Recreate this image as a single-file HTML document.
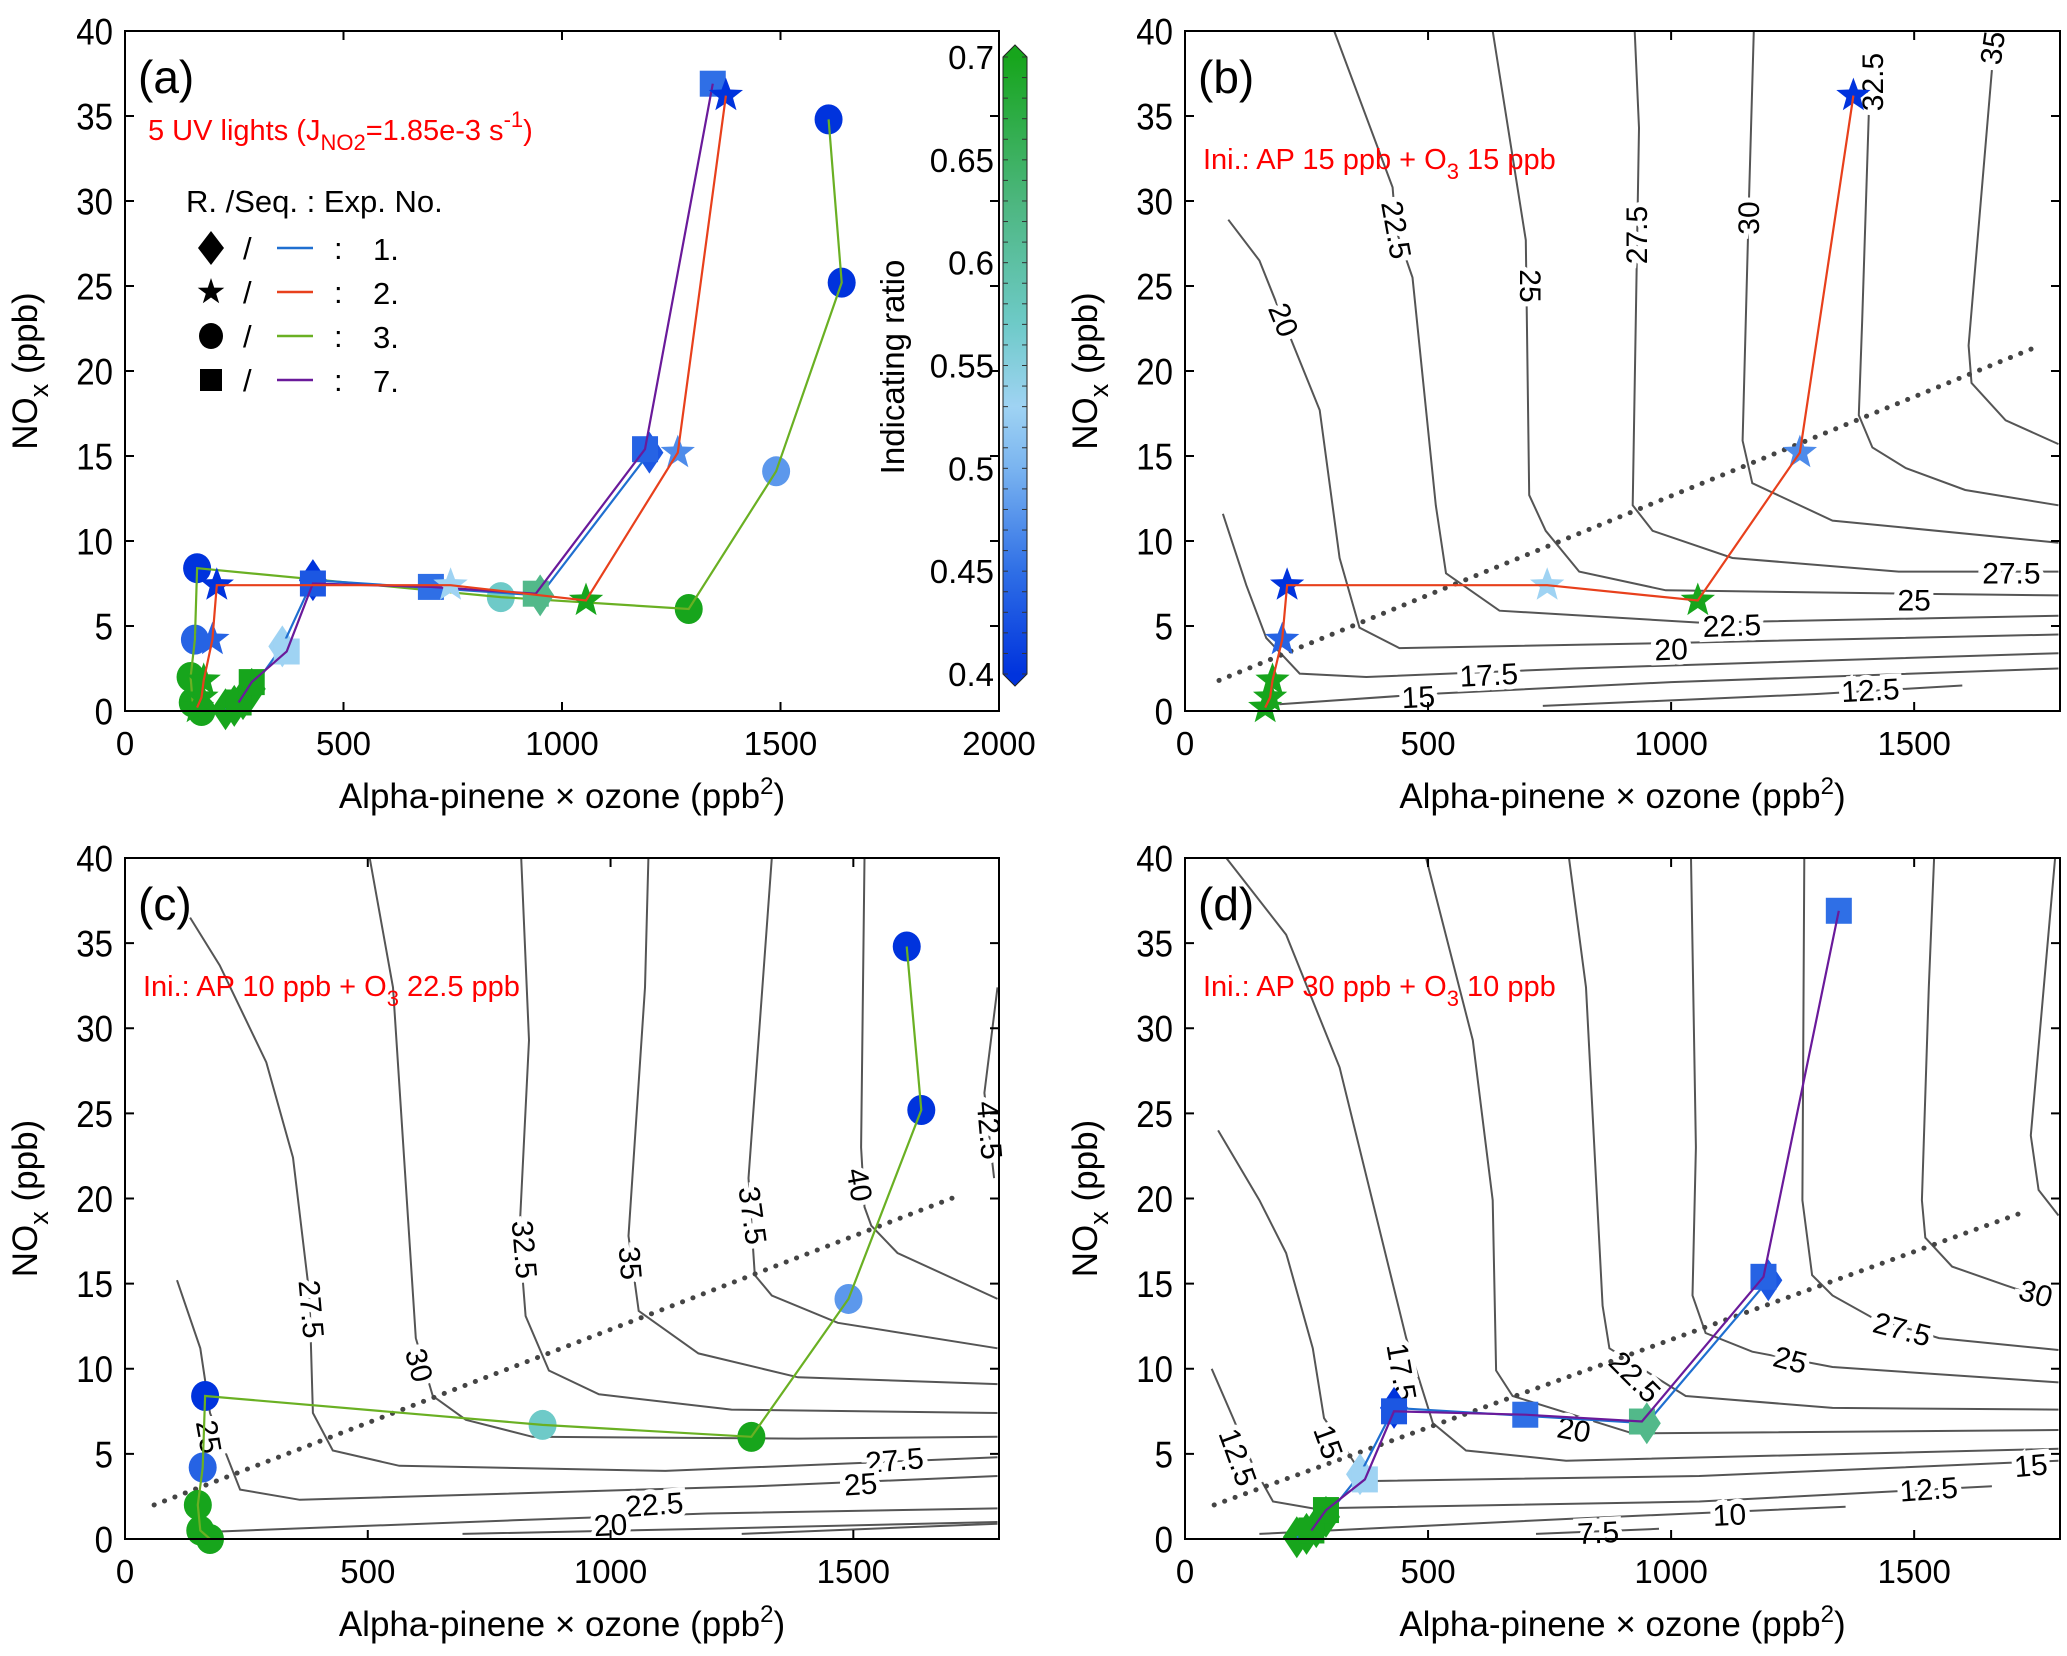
<!DOCTYPE html>
<html><head><meta charset="utf-8"><style>
html,body{margin:0;padding:0;background:#fff}
svg{display:block}
text{font-family:"Liberation Sans",Arial,sans-serif}
</style></head><body>
<svg id="fig" xmlns="http://www.w3.org/2000/svg" width="2067" height="1656" viewBox="0 0 2067 1656"></svg>
<script>
// ---------- data ----------
const exp1X=[230,250,270,290,360,430,950,1200];
const exp1Y=[0.1,0.3,0.7,1.3,3.8,7.7,6.8,15.2];
const exp1R=[0.7,0.7,0.7,0.7,0.53,0.4,0.62,0.43];
const exp7X=[260,290,370,430,700,940,1190,1345];
const exp7Y=[0.5,1.7,3.5,7.5,7.3,6.9,15.4,36.9];
const exp7R=[0.7,0.7,0.53,0.43,0.45,0.62,0.44,0.45];
const exp2X=[165,175,180,200,210,745,1055,1265,1375];
const exp2Y=[0.2,0.8,1.8,4.2,7.4,7.4,6.5,15.2,36.2];
const exp2R=[0.7,0.7,0.7,0.44,0.4,0.53,0.7,0.47,0.4];
const exp3X=[175,155,150,160,165,860,1290,1490,1640,1610];
const exp3Y=[0.0,0.5,2.0,4.2,8.4,6.7,6.0,14.1,25.2,34.8];
const exp3R=[0.7,0.7,0.7,0.44,0.4,0.57,0.7,0.48,0.4,0.4];
const yTicks=[0,5,10,15,20,25,30,35,40];
const xTicksA=[0,500,1000,1500,2000];
const xTicksB=[0,500,1000,1500];
const cbTicks=[0.4,0.45,0.5,0.55,0.6,0.65,0.7];
// contour lines: [level, points(x,y pairs)]
const contB=[
["15",[194,0.4,500,1.0,1000,1.7,1797,2.5]],
["12.5",[736,0.3,1300,1.0,1599,1.5]],
["17.5",[78,11.6,126,7.4,167,4.3,236,2.2,373,2.0,800,2.5,1797,3.4]],
["20",[89,28.9,153,26.5,202,23,277,17.7,318,9,359,4.9,441,3.7,1000,4.0,1797,4.5]],
["22.5",[307,40,427,30.8,434,28.3,468,25.5,516,12.1,537,8.1,647,5.9,1058,5.2,1797,5.6]],
["25",[633,40,701,27.7,708,12.7,742,10.6,811,8.2,989,7.1,1500,6.9,1797,6.8]],
["27.5",[925,40,934,34.3,921,12.1,962,10.6,1126,9.0,1468,8.2,1797,8.2]],
["30",[1170,40,1160,29.9,1147,15.9,1167,13.4,1332,11.2,1797,9.9]],
["32.5",[1407,35.5,1393,23,1386,17.4,1414,15.5,1482,14.3,1605,13.0,1797,12.1]],
["35",[1660,37.7,1612,21.5,1618,19.3,1688,17.1,1797,15.7]]];
const labB=[["20",202,23,68],["22.5",434,28.3,80],["25",710,25,90],["27.5",930,28,-90],["30",1160,29,-90],["32.5",1415,37,-90],["35",1662,39,-82],
["15",480,0.8,-3],["17.5",625,2.1,-3],["20",1000,3.6,-2],["22.5",1125,5.0,-2],["25",1500,6.5,0],["27.5",1700,8.1,0],["12.5",1410,1.2,-3]];
const contC=[
["20",[695,0.3,1200,0.6,1797,1.0]],
["17.5",[1270,0.3,1797,0.9]],
["22.5",[155,0.4,800,1.1,1200,1.5,1797,1.8]],
["25",[107,15.2,155,11.2,175,7.4,237,2.9,360,2.3,1300,3.1,1797,3.7]],
["27.5",[134,36.5,195,33.7,291,28.0,346,22.4,380,14.3,387,7.4,428,5.2,565,4.3,1113,4.0,1797,4.8]],
["30",[504,40,552,32.4,599,11.8,634,8.4,702,7.0,839,6.0,1386,5.9,1797,6.0]],
["32.5",[816,40,832,29.3,812,17.8,825,13.1,873,9.9,976,8.5,1249,7.6,1797,7.4]],
["35",[1078,40,1071,32.4,1037,17.8,1058,13.4,1181,10.9,1386,9.5,1797,9.1]],
["37.5",[1332,40,1284,21.2,1297,15.5,1332,14.3,1468,12.7,1797,11.2]],
["40",[1523,40,1516,23,1523,19.5,1537,18.4,1591,16.8,1797,14.1]],
["42.5",[1797,32.4,1770,26.2,1790,21.2]]];
const labC=[["25",172,6.0,80],["27.5",383,13.5,85],["30",605,10.2,75],["32.5",822,17,85],["35",1040,16.2,85],["37.5",1292,19,82],["40",1512,20.8,80],["42.5",1780,24,85],
["27.5",1585,4.6,-5],["25",1515,3.2,-4],["22.5",1090,2.0,-4],["20",1000,0.8,-3]];
const contD=[
["7.5",[722,0.3,975,0.6]],
["10",[153,0.3,800,1.2,1359,1.9]],
["12.5",[55,10,99,7.1,140,4.3,181,2.2,263,1.8,1058,2.2,1660,3.1]],
["15",[68,24,153,19.9,208,16.8,263,11.2,286,7.1,332,5.2,373,3.4,1058,3.7,1797,4.6]],
["17.5",[85,40,208,35.5,318,27.7,455,11.8,510,6.8,578,5.2,784,4.6,1797,5.3]],
["20",[496,40,592,29.3,633,19.9,640,9.9,674,8.4,921,6.2,1797,6.4]],
["22.5",[790,40,825,32.4,859,13.7,873,11.2,1030,8.4,1332,7.7,1797,7.6]],
["25",[1041,40,1051,23,1044,14.3,1071,12.1,1167,11.0,1332,10.1,1797,9.2]],
["27.5",[1274,40,1270,19.9,1290,15.5,1332,14.3,1414,13.0,1551,11.8,1797,11.1]],
["30",[1541,40,1530,32.4,1516,19.9,1523,17.7,1578,16,1688,14.9,1740,14.4]],
["32.5",[1790,40,1740,23.7,1756,20.5,1797,19]]];
const labD=[["12.5",108,4.8,70],["15",294,5.7,70],["17.5",445,9.8,80],["22.5",925,9.5,45],["20",800,6.4,10],["25",1245,10.5,15],["27.5",1475,12.3,15],["30",1750,14.4,15],
["15",1740,4.3,-5],["12.5",1530,2.9,-4],["10",1120,1.4,-3],["7.5",850,0.35,-3]];
// ---------- helpers ----------
const NS="http://www.w3.org/2000/svg";
const svg=document.getElementById('fig');
function mk(tag,attrs,parent,txt){const e=document.createElementNS(NS,tag);for(const k in attrs)e.setAttribute(k,attrs[k]);if(txt!==undefined)e.textContent=txt;(parent||svg).appendChild(e);return e;}
const cmapStops=[[0.4,[0,51,221]],[0.45,[47,111,230]],[0.5,[122,180,240]],[0.53,[159,211,243]],[0.57,[110,202,200]],[0.63,[76,182,126]],[0.7,[23,165,28]]];
function cmap(v){for(let i=0;i<cmapStops.length-1;i++){const a=cmapStops[i],b=cmapStops[i+1];if(v<=b[0]){const t=Math.max(0,(v-a[0])/(b[0]-a[0]));const c=a[1].map((q,j)=>Math.round(q+(b[1][j]-q)*t));return `rgb(${c})`;}}return 'rgb(23,165,28)';}
function panel(p){
  const sx=v=>p.l+(v/p.xmax)*(p.r-p.l);
  const sy=v=>p.b-(v/40)*(p.b-p.t);
  p.sx=sx;p.sy=sy;
  const g=mk('g',{});  
  p.g=g;
  return p;
}
function axes(p,xt){
  const g=p.g;
  const fr=mk('rect',{x:p.l,y:p.t,width:p.r-p.l,height:p.b-p.t,fill:'none',stroke:'#000','stroke-width':2},g);
  
  yTicks.forEach(v=>{const y=p.sy(v);
    mk('line',{x1:p.l,x2:p.l+9,y1:y,y2:y,stroke:'#000','stroke-width':2},g);
    mk('line',{x1:p.r,x2:p.r-9,y1:y,y2:y,stroke:'#000','stroke-width':2},g);
    const t=mk('text',{x:p.l-12,y:y+12,'text-anchor':'end','font-size':33,transform:`translate(0 ${y}) scale(1 1.12) translate(0 ${-y})`},g,String(v));
    });
  xt.forEach(v=>{const x=p.sx(v);
    mk('line',{x1:x,x2:x,y1:p.b,y2:p.b-9,stroke:'#000','stroke-width':2},g);
    mk('line',{x1:x,x2:x,y1:p.t,y2:p.t+9,stroke:'#000','stroke-width':2},g);
    const t=mk('text',{x:x,y:p.b+44,'text-anchor':'middle','font-size':33},g,String(v));
    });
  const xtl=mk('text',{x:(p.l+p.r)/2,y:p.b+97,'text-anchor':'middle','font-size':35},g);
  
  xtl.innerHTML='Alpha-pinene × ozone (ppb<tspan dy="-14" font-size="24">2</tspan><tspan dy="14">)</tspan>';
  const cx=p.l-88, cy=(p.t+p.b)/2;
  const ytl=mk('text',{x:cx,y:cy,'text-anchor':'middle','font-size':35,transform:`rotate(-90 ${cx} ${cy})`},g);
  
  ytl.innerHTML='NO<tspan dy="11" font-size="27">x</tspan><tspan dy="-11"> (ppb)</tspan>';
  const pl=mk('text',{x:p.l+13,y:p.t+62,'font-size':46},g,'('+p.id+')');
  
}
function contours(p,list,labs){
  const g=mk('g',{},p.g);
  list.forEach(c=>{const pts=c[1];let d='';
    for(let i=0;i<pts.length;i+=2){d+=(i?'L':'M')+p.sx(pts[i]).toFixed(1)+','+p.sy(pts[i+1]).toFixed(1);}
    const pa=mk('path',{d:d,fill:'none',stroke:'#555','stroke-width':2},g);
    });
  labs.forEach(c=>{
    const X=p.sx(c[1]),Y=p.sy(c[2]);
    const t=mk('text',{x:X,y:Y+10,'text-anchor':'middle','font-size':30,transform:`rotate(${c[3]} ${X} ${Y})`,stroke:'#fff','stroke-width':10,'paint-order':'stroke',fill:'#000'},g,c[0]);
    });
}
function dotted(p,x1,y1,x2,y2){
  const l=mk('line',{x1:p.sx(x1),y1:p.sy(y1),x2:p.sx(x2),y2:p.sy(y2),stroke:'#444','stroke-width':5,'stroke-dasharray':'0.1 11','stroke-linecap':'round'},p.g);
  
}
function marker(p,shape,x,y,col){
  const X=p.sx(x),Y=p.sy(y);let e;
  if(shape==='circle')e=mk('ellipse',{cx:X,cy:Y,rx:14,ry:15,fill:col},p.g);
  else if(shape==='square')e=mk('rect',{x:X-13,y:Y-13,width:26,height:26,fill:col},p.g);
  else if(shape==='diamond')e=mk('polygon',{points:`${X},${Y-21} ${X+14},${Y} ${X},${Y+21} ${X-14},${Y}`,fill:col},p.g);
  else{let s='';for(let k=0;k<10;k++){const r=k%2?7.5:18;const a=-Math.PI/2+k*Math.PI/5;s+=(X+r*Math.cos(a)).toFixed(1)+','+(Y+r*Math.sin(a)).toFixed(1)+' ';}
    e=mk('polygon',{points:s,fill:col},p.g);}
  
}
function series(p,X,Y,R,shape,lc,name){
  for(let i=0;i<X.length;i++)marker(p,shape,X[i],Y[i],cmap(R[i]));
  let d='';for(let i=0;i<X.length;i++)d+=(i?'L':'M')+p.sx(X[i]).toFixed(1)+','+p.sy(Y[i]).toFixed(1);
  const l=mk('path',{d:d,fill:'none',stroke:lc,'stroke-width':2.2},p.g);
  
}
function note(p,txt,sub,rest){
  const t=mk('text',{x:p.l+18,y:p.t+138,'font-size':29,fill:'#f00'},p.g);
  
  t.innerHTML=txt+'<tspan dy="10" font-size="22">'+sub+'</tspan><tspan dy="-10">'+rest+'</tspan>';
}
const C1='#1f6fd0',C2='#e8401c',C3='#6ab023',C7='#6a1a9a';
// ---------- panel a ----------
const A=panel({id:'a',l:125,r:999,t:31,b:711,xmax:2000});
series(A,exp3X,exp3Y,exp3R,'circle',C3,'exp3-line');
series(A,exp1X,exp1Y,exp1R,'diamond',C1,'exp1-line');
series(A,exp7X,exp7Y,exp7R,'square',C7,'exp7-line');
series(A,exp2X,exp2Y,exp2R,'star',C2,'exp2-line');
axes(A,xTicksA);
{const t=mk('text',{x:148,y:140,'font-size':29,fill:'#f00'},A.g);
 
 t.innerHTML='5 UV lights (J<tspan dy="10" font-size="22">NO2</tspan><tspan dy="-10">=1.85e-3 s</tspan><tspan dy="-13" font-size="22">-1</tspan><tspan dy="13">)</tspan>';
 const lg=mk('g',{},A.g);
 const h=mk('text',{x:186,y:212,'font-size':31},lg,'R. /Seq. : Exp. No.');
 const rows=[['diamond',C1,'1.'],['star',C2,'2.'],['circle',C3,'3.'],['square',C7,'7.']];
 rows.forEach((r,i)=>{const y=248+i*44;
   const X=211,Y=y;let e;
   if(r[0]==='diamond')e=mk('polygon',{points:`${X},${Y-17} ${X+13},${Y} ${X},${Y+17} ${X-13},${Y}`,fill:'#000'},lg);
   else if(r[0]==='circle')e=mk('ellipse',{cx:X,cy:Y,rx:12,ry:13,fill:'#000'},lg);
   else if(r[0]==='square')e=mk('rect',{x:X-11,y:Y-11,width:22,height:22,fill:'#000'},lg);
   else{let s='';for(let k=0;k<10;k++){const rr=k%2?5.5:14;const a=-Math.PI/2+k*Math.PI/5;s+=(X+rr*Math.cos(a)).toFixed(1)+','+(Y+rr*Math.sin(a)).toFixed(1)+' ';}e=mk('polygon',{points:s,fill:'#000'},lg);}
   
   mk('text',{x:243,y:y+11,'font-size':31},lg,'/');
   const ln=mk('line',{x1:277,x2:313,y1:y,y2:y,stroke:r[1],'stroke-width':2.5},lg);
   mk('text',{x:334,y:y+11,'font-size':31},lg,':');
   const n=mk('text',{x:373,y:y+12,'font-size':31},lg,r[2]);});
 // colorbar
 const cb=mk('g',{},A.g);
 const defs=mk('defs',{},svg);const gr=mk('linearGradient',{id:'cbg',x1:0,y1:1,x2:0,y2:0},defs);
 cmapStops.forEach(s=>mk('stop',{offset:((s[0]-0.4)/0.3),'stop-color':`rgb(${s[1]})`},gr));
 const cl=1003,cr=1027,ct=57,cbt=674;
 const cyv=v=>cbt-(v-0.4)/0.3*(cbt-ct);
 mk('rect',{x:cl,y:ct,width:cr-cl,height:cbt-ct,fill:'url(#cbg)'},cb);
 mk('polygon',{points:`${cl},${ct} ${cr},${ct} ${(cl+cr)/2},${ct-12}`,fill:cmap(0.7)},cb);
 mk('polygon',{points:`${cl},${cbt} ${cr},${cbt} ${(cl+cr)/2},${cbt+12}`,fill:cmap(0.4)},cb);
 mk('polygon',{points:`${cl},${ct} ${(cl+cr)/2},${ct-12} ${cr},${ct} ${cr},${cbt} ${(cl+cr)/2},${cbt+12} ${cl},${cbt}`,fill:'none',stroke:'#222','stroke-width':1},cb);
 for(let v=0.4;v<=0.7001;v+=0.01){const y=cyv(v);mk('line',{x1:cl,x2:cl+5,y1:y,y2:y,stroke:'#333','stroke-width':1},cb);mk('line',{x1:cr,x2:cr-5,y1:y,y2:y,stroke:'#333','stroke-width':1},cb);}
 cbTicks.forEach(v=>{const t=mk('text',{x:994,y:cyv(v)+12,'text-anchor':'end','font-size':33},cb,String(v));});
 const ct2=mk('text',{x:904,y:367,'text-anchor':'middle','font-size':33,transform:'rotate(-90 904 367)'},cb,'Indicating ratio');
 
}
// ---------- panel b ----------
const B=panel({id:'b',l:1185,r:2060,t:31,b:711,xmax:1800});
contours(B,contB,labB);dotted(B,70,1.8,1750,21.4);
series(B,exp2X,exp2Y,exp2R,'star',C2,'exp2-line');
axes(B,xTicksB);note(B,'Ini.: AP 15 ppb + O','3',' 15 ppb');
// ---------- panel c ----------
const Cp=panel({id:'c',l:125,r:999,t:858,b:1539,xmax:1800});
contours(Cp,contC,labC);dotted(Cp,60,2,1720,20.2);
series(Cp,exp3X,exp3Y,exp3R,'circle',C3,'exp3-line');
axes(Cp,xTicksB);note(Cp,'Ini.: AP 10 ppb + O','3',' 22.5 ppb');
// ---------- panel d ----------
const D=panel({id:'d',l:1185,r:2060,t:858,b:1539,xmax:1800});
contours(D,contD,labD);dotted(D,60,2,1725,19.2);
series(D,exp1X,exp1Y,exp1R,'diamond',C1,'exp1-line');
series(D,exp7X,exp7Y,exp7R,'square',C7,'exp7-line');
axes(D,xTicksB);note(D,'Ini.: AP 30 ppb + O','3',' 10 ppb');
</script>
</body></html>
